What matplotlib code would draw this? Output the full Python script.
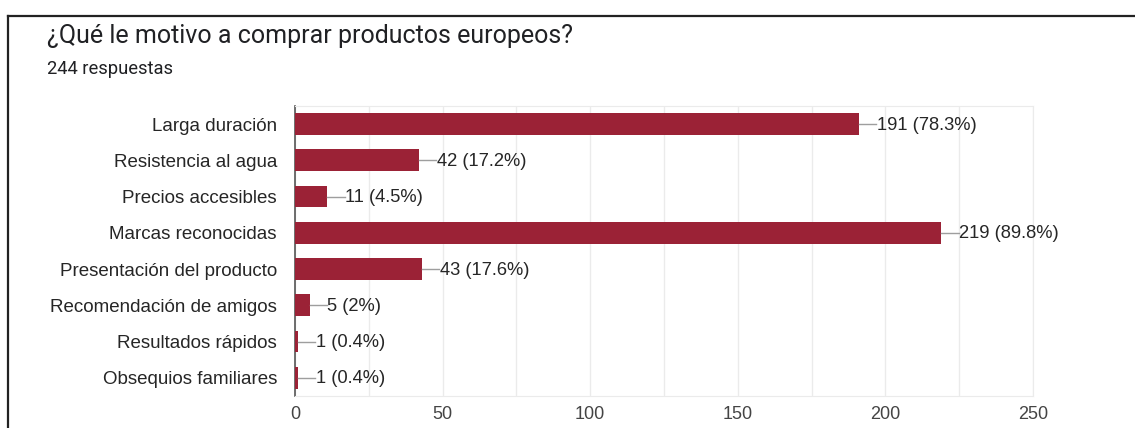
import numpy as np
import matplotlib.pyplot as plt
from matplotlib.lines import Line2D
from matplotlib.ticker import MultipleLocator

categorias = ["Larga duración", "Resistencia al agua", "Precios accesibles",
              "Marcas reconocidas", "Presentación del producto",
              "Recomendación de amigos", "Resultados rápidos", "Obsequios familiares"]
respuestas = [191, 42, 11, 219, 43, 5, 1, 1]
porcentajes = ["78.3%", "17.2%", "4.5%", "89.8%", "17.6%", "2%", "0.4%", "0.4%"]
total = 244
ticks_x = [0, 50, 100, 150, 200, 250]

plt.rcParams['font.family'] = ['Liberation Sans', 'DejaVu Sans']

fig = plt.figure(figsize=(11.35, 4.28), dpi=100)
ax = fig.add_axes([0.2599, 0.0748, 0.6502, 0.6776])

y = np.arange(len(categorias))
ax.barh(y, respuestas, height=0.6, color='#9b2236', zorder=3)

# etiquetas con su linea guia
for i, v in enumerate(respuestas):
    ax.plot([v, v + 5.8], [i, i], color='#9e9e9e', lw=1, zorder=3)
    ax.text(v + 6.0, i + 0.03, f"{v} ({porcentajes[i]})", va='center', ha='left',
            fontsize=13.2, color='#262626')

ax.set_xlim(0, 250)
ax.set_ylim(len(categorias) - 0.5, -0.5)
ax.set_yticks(y)
ax.set_yticklabels(categorias, fontsize=13.5, color='#262626')
ax.set_xticks(ticks_x)
ax.set_xticklabels([str(t) for t in ticks_x], fontsize=13, color='#444444')
ax.xaxis.set_minor_locator(MultipleLocator(25))
ax.grid(axis='x', which='both', color='#ebebeb', lw=1, zorder=0)
ax.tick_params(axis='both', which='both', length=0)
ax.tick_params(axis='x', pad=7)
ax.tick_params(axis='y', pad=13)
for s in ['top', 'right', 'bottom']:
    ax.spines[s].set_color('#ebebeb')
ax.spines['left'].set_color('#555555')
ax.spines['left'].set_linewidth(1.2)

fig.text(47 / 1135, 1 - 43 / 428, "¿Qué le motivo a comprar productos europeos?",
         fontsize=18, color='#202124', family=['Roboto', 'DejaVu Sans'], va='baseline')
fig.text(47 / 1135, 1 - 74 / 428, f"{total} respuestas",
         fontsize=13.2, color='#202124', family=['Roboto', 'DejaVu Sans'], va='baseline')

# marco
fig.add_artist(Line2D([8 / 1135, 1], [1 - 16 / 428, 1 - 16 / 428], color='#222222', lw=1.6))
fig.add_artist(Line2D([8 / 1135, 8 / 1135], [0, 1 - 16 / 428], color='#222222', lw=1.6))

fig.savefig('out.png', dpi=100)
